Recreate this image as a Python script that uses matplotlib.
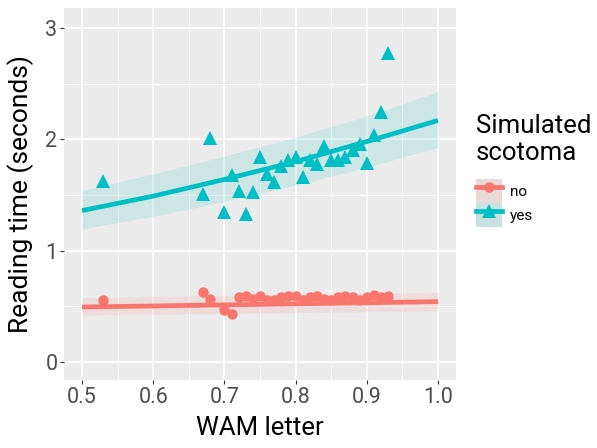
import matplotlib
matplotlib.use('Agg')
import matplotlib.pyplot as plt
from matplotlib.lines import Line2D
from matplotlib.patches import Patch
from matplotlib.legend_handler import HandlerTuple

plt.rcParams['font.family'] = ['Roboto', 'DejaVu Sans']

# WAM letter score per participant (shared by both conditions)
wam = [0.53, 0.67, 0.68, 0.70, 0.71, 0.72, 0.73, 0.74, 0.75, 0.76, 0.77, 0.78, 0.79,
       0.80, 0.81, 0.82, 0.83, 0.84, 0.85, 0.86, 0.87, 0.88, 0.89, 0.90, 0.91, 0.92, 0.93]

# reading time, no simulated scotoma
rt_no = [0.56, 0.63, 0.57, 0.47, 0.43, 0.58, 0.59, 0.57, 0.59, 0.56, 0.56, 0.58, 0.59,
         0.59, 0.56, 0.58, 0.59, 0.57, 0.56, 0.58, 0.59, 0.58, 0.56, 0.58, 0.60, 0.58, 0.59]

# reading time, simulated scotoma
rt_yes = [1.63, 1.51, 2.01, 1.35, 1.68, 1.54, 1.33, 1.53, 1.84, 1.69, 1.62, 1.76, 1.81,
          1.84, 1.66, 1.81, 1.78, 1.94, 1.81, 1.81, 1.84, 1.90, 1.96, 1.79, 2.04, 2.25, 2.78]

# model fit and confidence band
fit_x = [0.5, 0.6, 0.7, 0.8, 0.9, 1.0]
fit_no = [0.494, 0.503, 0.513, 0.522, 0.532, 0.542]
lo_no = [0.420, 0.428, 0.436, 0.444, 0.452, 0.460]
hi_no = [0.580, 0.589, 0.598, 0.607, 0.616, 0.625]
fit_yes = [1.36, 1.49, 1.64, 1.80, 1.98, 2.17]
lo_yes = [1.195, 1.31, 1.44, 1.59, 1.75, 1.93]
hi_yes = [1.54, 1.69, 1.85, 2.02, 2.21, 2.43]

red = '#F8766D'
teal = '#00BFC4'

fig = plt.figure(figsize=(5.97, 4.48), dpi=100)
ax = fig.add_axes([64 / 597, 68 / 448, 392 / 597, 372 / 448])
ax.set_facecolor('#EBEBEB')

ax.fill_between(fit_x, lo_no, hi_no, color=red, alpha=0.12, lw=0, zorder=2)
ax.fill_between(fit_x, lo_yes, hi_yes, color=teal, alpha=0.12, lw=0, zorder=2)
ax.plot(fit_x, fit_no, color=red, lw=3.4, zorder=3, solid_capstyle='butt')
ax.plot(fit_x, fit_yes, color=teal, lw=3.4, zorder=3, solid_capstyle='butt')
ax.plot(wam, rt_no, 'o', color=red, ms=7.5, mew=0, zorder=4)
ax.plot(wam, rt_yes, '^', color=teal, ms=10.5, mew=0, zorder=4)

ax.set_xlim(0.4747, 1.0253)
ax.set_ylim(-0.162, 3.18)
ax.set_xticks([0.5, 0.6, 0.7, 0.8, 0.9, 1.0])
ax.set_xticklabels(['0.5', '0.6', '0.7', '0.8', '0.9', '1.0'])
ax.set_yticks([0, 1, 2, 3])
ax.set_xticks([0.55, 0.65, 0.75, 0.85, 0.95], minor=True)
ax.set_yticks([0.5, 1.5, 2.5], minor=True)
ax.grid(which='major', color='white', lw=1.1, zorder=0)
ax.grid(which='minor', color='white', lw=0.55, zorder=0)
ax.set_axisbelow(True)
for s in ax.spines.values():
    s.set_visible(False)
ax.tick_params(which='major', length=2.75, width=0.8, color='#333333',
               labelsize=15.5, labelcolor='#4D4D4D', pad=2)
ax.tick_params(which='minor', length=0)

ax.set_xlabel('WAM letter', fontsize=18.5, color='black', labelpad=6)
ax.set_ylabel('Reading time (seconds)', fontsize=19, color='black', labelpad=8)

key_bg = '#E6E6E6'
h_no = (Patch(facecolor=key_bg, edgecolor='none'),
        Patch(facecolor=red, alpha=0.12, edgecolor='none'),
        Line2D([], [], color=red, lw=3.4, marker='o', ms=7.5, mew=0))
h_yes = (Patch(facecolor=key_bg, edgecolor='none'),
         Patch(facecolor=teal, alpha=0.12, edgecolor='none'),
         Line2D([], [], color=teal, lw=3.4, marker='^', ms=10.5, mew=0))
leg = fig.legend([h_no, h_yes], ['no', 'yes'],
                 handler_map={tuple: HandlerTuple(ndivide=1, pad=0)},
                 title='Simulated\nscotoma', loc='upper left',
                 bbox_to_anchor=(476 / 597, 1 - 114 / 448),
                 frameon=False, fontsize=11, title_fontsize=18.5,
                 handlelength=1.7, handleheight=2.05, handletextpad=0.5,
                 labelspacing=0.0, borderpad=0, borderaxespad=0)
leg._legend_box.align = 'left'
leg._legend_box.sep = 10
leg.get_title().set_linespacing(1.15)

fig.savefig('out.png', dpi=100)
